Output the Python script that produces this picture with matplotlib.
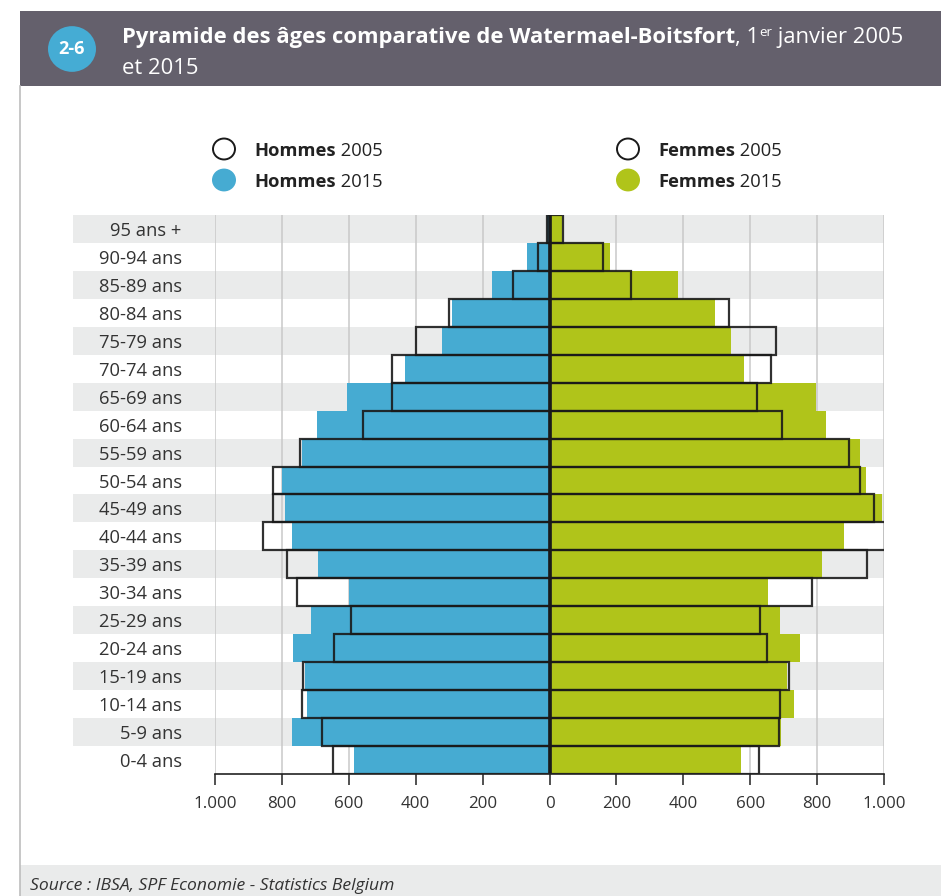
import matplotlib
matplotlib.use("Agg")
import matplotlib.pyplot as plt
from matplotlib.patches import Rectangle, Circle
from matplotlib.transforms import blended_transform_factory
from matplotlib.ticker import FuncFormatter

# age groups, bottom to top
ages = ["0-4 ans", "5-9 ans", "10-14 ans", "15-19 ans", "20-24 ans", "25-29 ans",
        "30-34 ans", "35-39 ans", "40-44 ans", "45-49 ans", "50-54 ans", "55-59 ans",
        "60-64 ans", "65-69 ans", "70-74 ans", "75-79 ans", "80-84 ans", "85-89 ans",
        "90-94 ans", "95 ans +"]
hommes_2015 = [583, 770, 726, 730, 767, 714, 598, 693, 770, 791, 800, 740,
               696, 606, 433, 322, 291, 173, 66, 6]
hommes_2005 = [648, 680, 739, 737, 644, 593, 754, 784, 856, 826, 826, 745,
               558, 471, 472, 400, 299, 110, 35, 8]
femmes_2015 = [573, 691, 730, 709, 749, 690, 654, 815, 881, 993, 946, 929,
               827, 797, 582, 543, 496, 385, 182, 37]
femmes_2005 = [627, 687, 688, 715, 651, 629, 785, 949, 1002, 969, 929, 896,
               695, 620, 661, 676, 536, 243, 159, 40]
xticks = [-1000, -800, -600, -400, -200, 0, 200, 400, 600, 800, 1000]

BLUE = "#46abd2"
GREEN = "#b0c41a"
HEADER = "#64606c"
BAND = "#eaebeb"
DARK = "#333333"
FONT = "Open Sans"

W, H = 941, 896
fig = plt.figure(figsize=(W / 100, H / 100), dpi=100)
plt.rcParams["font.family"] = [FONT, "DejaVu Sans"]


def fx(x):
    return x / W


def fy(y):
    return 1 - y / H


renderer = fig.canvas.get_renderer()


def runs(x, y, parts, color, va="center"):
    # draw consecutive text pieces (text, weight, size, dy)
    for text, weight, size, dy in parts:
        t = fig.text(fx(x), fy(y - dy), text, fontsize=size, fontweight=weight,
                     color=color, va=va, ha="left")
        x += t.get_window_extent(renderer).width
    return x


# header band
fig.patches.append(Rectangle((fx(20), fy(86)), fx(921), 75 / H, transform=fig.transFigure,
                             facecolor=HEADER, edgecolor="none"))
fig.patches.append(Circle((fx(72), fy(49)), 24 / W, transform=fig.transFigure,
                          facecolor="#45acd4", edgecolor="none"))
fig.text(fx(72), fy(49), "2-6", color="white", fontsize=13, fontweight="bold",
         ha="center", va="center")
runs(122, 38, [("Pyramide des âges comparative de Watermael-Boitsfort", "bold", 15.8, 0),
               (", 1", "normal", 15.8, 0), ("er", "normal", 9.5, 6),
               (" janvier 2005", "normal", 15.8, 0)], "white")
runs(122, 69, [("et 2015", "normal", 15.8, 0)], "white")

# left border and footer
fig.add_artist(plt.Line2D([fx(20), fx(20)], [fy(86), 0], transform=fig.transFigure,
                          color="#bdbdbd", lw=1.2))
fig.patches.append(Rectangle((fx(20), 0), fx(921), 31 / H, transform=fig.transFigure,
                             facecolor=BAND, edgecolor="none"))
fig.text(fx(30), fy(886), "Source : IBSA, SPF Economie - Statistics Belgium",
         fontsize=12.6, style="italic", color=DARK, va="center")

# legend
for cx, tx, label in [(224, 254, "Hommes"), (628, 658, "Femmes")]:
    fill = BLUE if label == "Hommes" else GREEN
    fig.patches.append(Circle((fx(cx), fy(149)), 11 / W, transform=fig.transFigure,
                              facecolor="white", edgecolor="#1a1a1a", lw=1.4))
    fig.patches.append(Circle((fx(cx), fy(180)), 12 / W, transform=fig.transFigure,
                              facecolor=fill, edgecolor="none"))
    runs(tx, 151, [(label, "bold", 13.2, 0), (" 2005", "normal", 13.2, 0)], "#222222")
    runs(tx, 182, [(label, "bold", 13.2, 0), (" 2015", "normal", 13.2, 0)], "#222222")

# pyramid
ax = fig.add_axes([fx(215), fy(774), fx(884 - 215), (774 - 215) / H])
ax.set_xlim(-1000, 1000)
ax.set_ylim(-0.5, len(ages) - 0.5)
ys = list(range(len(ages)))

bt = blended_transform_factory(ax.transAxes, ax.transData)
for i in ys:
    if i % 2 == 1:
        ax.add_patch(Rectangle((-(215 - 73) / (884 - 215), i - 0.5), 1 + (215 - 73) / (884 - 215), 1,
                               transform=bt, facecolor=BAND, edgecolor="none",
                               clip_on=False, zorder=0))
for v in xticks:
    if v != 0:
        ax.axvline(v, color="#c9c9c9", lw=1.1, zorder=1)

ax.barh(ys, [-v for v in hommes_2015], height=1, color=BLUE, zorder=2)
ax.barh(ys, femmes_2015, height=1, color=GREEN, zorder=2)
ax.barh(ys, [-v for v in hommes_2005], height=1, fill=False, edgecolor="#1a1a1a",
        lw=1.6, alpha=0.9, zorder=3)
ax.barh(ys, femmes_2005, height=1, fill=False, edgecolor="#1a1a1a",
        lw=1.6, alpha=0.9, zorder=3)
ax.axvline(0, color="#1a1a1a", lw=2.6, zorder=4)

for s in ["top", "left", "right"]:
    ax.spines[s].set_visible(False)
ax.spines["bottom"].set_color("#222222")
ax.spines["bottom"].set_linewidth(1.2)
ax.spines["bottom"].set_zorder(5)

ax.set_xticks(xticks)
ax.xaxis.set_major_formatter(FuncFormatter(
    lambda v, p: f"{abs(int(v)):,}".replace(",", ".")))
ax.tick_params(axis="x", direction="out", length=8, width=1.1, color="#222222",
               labelsize=12.2, labelcolor=DARK, pad=8)
ax.set_yticks(ys)
ax.set_yticklabels(ages)
for lab in ax.get_yticklabels():
    lab.set_va("center_baseline")
ax.tick_params(axis="y", length=0, labelsize=13.2, labelcolor=DARK, pad=24)

fig.savefig("out.png", dpi=100)
